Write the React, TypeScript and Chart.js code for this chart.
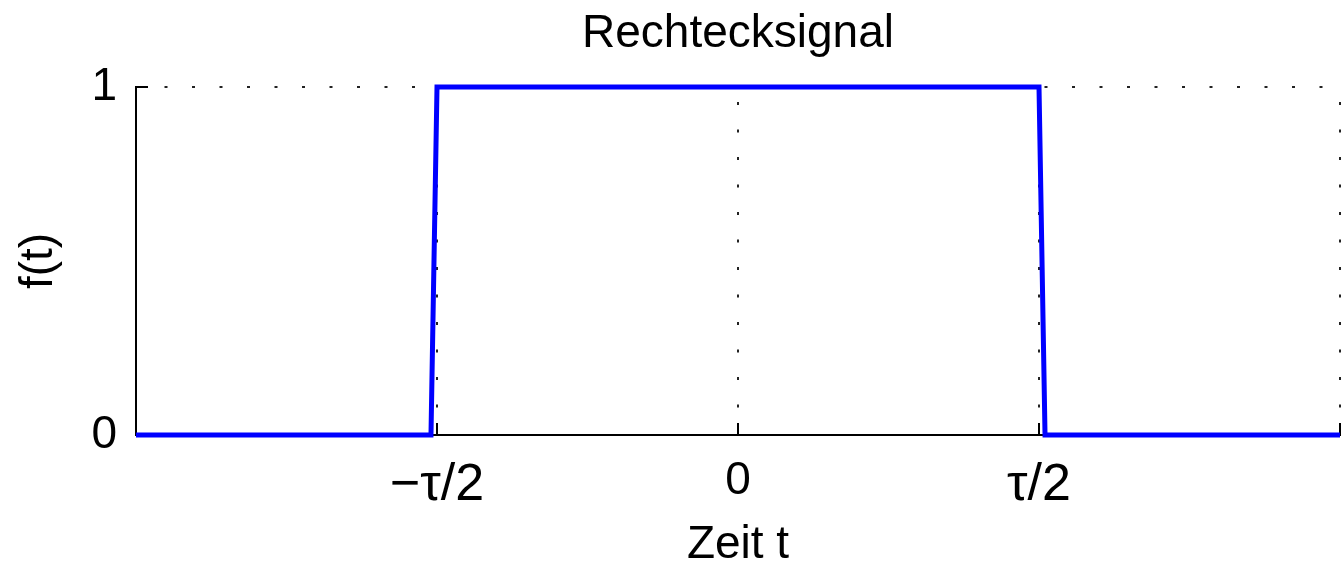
import { useEffect, useRef } from 'react';
import { Chart, registerables } from 'chart.js';

Chart.register(...registerables);

// ---- data ----
const timeValues = [-2, -1.02, -1, 1, 1.02, 2];
const signalValues = [0, 0, 1, 1, 0, 0];
const xTickValues = [-2, -1, 0, 1, 2];
const xTickLabels = ['', '\u2212\u03C4/2', '0', '\u03C4/2', ''];
const yTickValues = [0, 1];
const yTickLabels = ['0', '1'];
const chartTitle = 'Rechtecksignal';
const xAxisTitle = 'Zeit t';
const yAxisTitle = 'f(t)';

const FONT = "'Liberation Sans', Arial, Helvetica, sans-serif";

export default function App() {
  const canvasRef = useRef<HTMLCanvasElement | null>(null);

  useEffect(() => {
    const canvas = canvasRef.current;
    if (!canvas) return;
    const chart = new Chart(canvas, {
      type: 'line',
      data: {
        datasets: [
          {
            data: timeValues.map((t, i) => ({ x: t, y: signalValues[i] })),
            borderColor: '#0000ff',
            borderWidth: 5,
            pointRadius: 0,
            tension: 0,
            borderJoinStyle: 'miter',
            clip: false as any,
            xAxisID: 'x',
            yAxisID: 'y',
          },
        ],
      },
      options: {
        animation: false,
        responsive: false,
        layout: { padding: { left: 0, right: 3, top: 0, bottom: 0 } },
        plugins: {
          legend: { display: false },
          tooltip: { enabled: false },
          title: { display: false },
        },
        scales: {
          x: {
            type: 'linear',
            position: 'bottom',
            min: -2,
            max: 2,
            afterBuildTicks: (scale: any) => {
              scale.ticks = xTickValues.map((v) => ({ value: v }));
            },
            afterFit: (scale: any) => {
              scale.height = 131;
              scale.paddingLeft = 0;
              scale.paddingRight = 0;
            },
            ticks: {
              autoSkip: false,
              maxRotation: 0,
              padding: 31,
              color: '#000',
              font: (ctx: any) => ({
                family: FONT,
                size: ctx.tick && ctx.tick.value === 0 ? 46 : 52,
              }),
              callback: (value: any) => {
                const idx = xTickValues.indexOf(Number(value));
                return idx >= 0 ? xTickLabels[idx] : '';
              },
            },
            grid: {
              display: true,
              drawOnChartArea: true,
              drawTicks: true,
              tickLength: -12,
              tickWidth: 2,
              tickColor: '#000',
              tickBorderDash: [],
              color: '#222',
              lineWidth: 2,
            },
            border: {
              display: true,
              color: '#000',
              width: 2,
              dash: [3, 24.5],
              dashOffset: 12.5,
            },
            title: {
              display: true,
              text: xAxisTitle,
              color: '#000',
              font: { family: FONT, size: 46, lineHeight: 0.9 },
              padding: { top: 0, bottom: 0 },
            },
          },
          x2: {
            type: 'linear',
            position: 'top',
            axis: 'x',
            min: -2,
            max: 2,
            afterFit: (scale: any) => {
              scale.height = 87;
              scale.paddingLeft = 0;
              scale.paddingRight = 0;
            },
            ticks: { display: false },
            grid: { display: false, drawTicks: false },
            border: { display: false },
            title: {
              display: true,
              text: chartTitle,
              color: '#000',
              font: { family: FONT, size: 46, lineHeight: 1.2 },
              padding: { top: 7, bottom: 0 },
            },
          },
          y: {
            type: 'linear',
            position: 'left',
            min: 0,
            max: 1,
            afterBuildTicks: (scale: any) => {
              scale.ticks = yTickValues.map((v) => ({ value: v }));
            },
            afterFit: (scale: any) => {
              scale.width = 136;
              scale.paddingTop = 0;
              scale.paddingBottom = 0;
            },
            ticks: {
              padding: 31,
              color: '#000',
              font: { family: FONT, size: 46 },
              callback: (value: any) => {
                const idx = yTickValues.indexOf(Number(value));
                return idx >= 0 ? yTickLabels[idx] : '';
              },
            },
            grid: {
              display: true,
              drawOnChartArea: true,
              drawTicks: true,
              tickLength: -12,
              tickWidth: 2,
              tickColor: '#000',
              tickBorderDash: [],
              color: '#222',
              lineWidth: 2,
            },
            border: {
              display: true,
              color: '#000',
              width: 2,
              dash: [3, 24.5],
              dashOffset: 0,
            },
            title: {
              display: true,
              text: yAxisTitle,
              color: '#000',
              font: { family: FONT, size: 46, lineHeight: 1.2 },
              padding: { top: 12, bottom: 0 },
            },
          },
        },
      } as any,
    });
    return () => {
      chart.destroy();
    };
  }, []);

  return (
    <div
      style={{
        position: 'fixed',
        left: 0,
        top: 0,
        width: 1343,
        height: 566,
        background: '#fff',
      }}
    >
      <canvas
        ref={canvasRef}
        width={1343}
        height={566}
        style={{ display: 'block', width: 1343, height: 566 }}
      />
    </div>
  );
}
